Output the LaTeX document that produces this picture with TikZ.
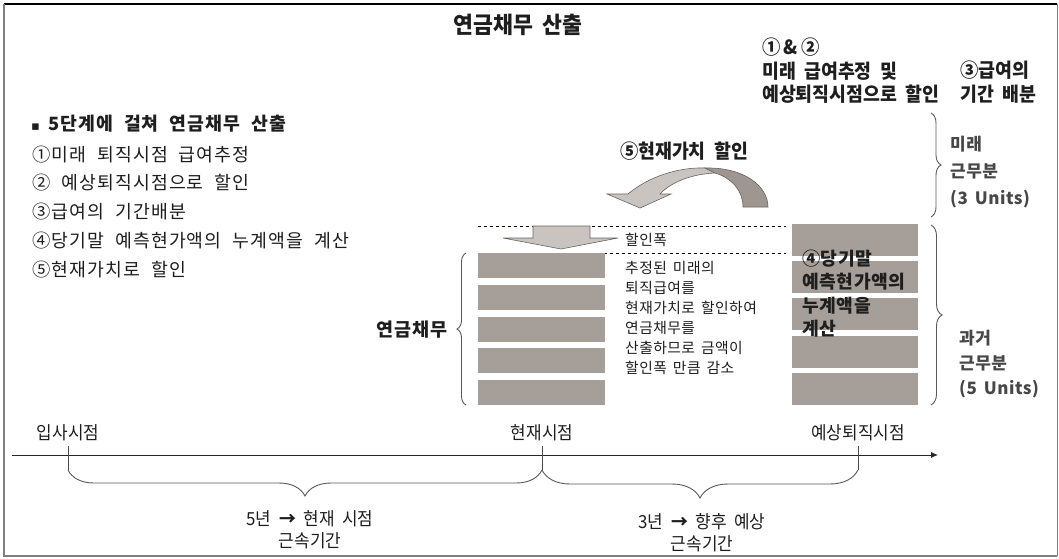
\documentclass[tikz,border=0pt]{standalone}
\usepackage{fontspec}
\setmainfont{Noto Sans CJK KR}
\newfontfamily\krl[LetterSpace=6,WordSpace=2.1]{Noto Sans CJK KR}
\newfontfamily\krs[LetterSpace=3,WordSpace=1.6]{Noto Sans CJK KR}
\newfontfamily\krc[FakeStretch=0.94]{Noto Sans CJK KR}
\newfontfamily\krt[FakeStretch=0.94,WordSpace=2]{Noto Sans CJK KR}
\newfontfamily\dejavu{DejaVu Sans}
\usetikzlibrary{arrows.meta,decorations.pathreplacing}
\definecolor{barc}{RGB}{166,158,153}
\definecolor{arlight}{RGB}{202,196,192}
\definecolor{ardark}{RGB}{158,150,145}
\definecolor{arline}{RGB}{105,100,97}
\definecolor{txt}{RGB}{30,30,30}
\tikzset{
  lst/.style={font=\krl\fontsize{18.3}{18}\selectfont, anchor=west, inner sep=0pt, text=txt},
  cond/.style={font=\krc\bfseries\fontsize{19.5}{23.5}\selectfont, inner sep=0pt, text=txt},
  tl/.style={font=\krt\fontsize{18}{22}\selectfont, inner sep=0pt, text=txt},
  small/.style={font=\krs\fontsize{14.8}{20}\selectfont, inner sep=0pt, text=txt, align=left},
  side/.style={font=\krs\bfseries\fontsize{17}{27}\selectfont, inner sep=0pt, text=black!72, align=left, anchor=north west},
  barl/.style={fill=barc, draw=none, minimum width=127pt, minimum height=25pt, inner sep=0pt},
  barr/.style={fill=barc, draw=none, minimum width=126pt, minimum height=32pt, inner sep=0pt},
  brc/.style={draw=black!65, line width=0.9pt, decorate},
  guide/.style={dashed, black, line width=0.7pt}
}
\begin{document}
\begin{tikzpicture}[x=1pt,y=-1pt]
\useasboundingbox (0,0) rectangle (1059,558);
% frame
\draw[black, line width=1.5pt] (4,4) -- (1057,4);
\draw[black!50, line width=2pt] (4,4) -- (4,556) -- (1057,556);
\draw[black!50, line width=0.8pt] (1057,4) -- (1057,556);

% title
\node[cond, font=\krc\bfseries\fontsize{23}{23}\selectfont] (title) at (518,25) {연금채무 산출};

% top right labels
\node[cond, anchor=north west, align=left] (h12) at (762,38) {①\,\&\,②\\미래 급여추정 및\\예상퇴직시점으로 할인};
\node[cond, anchor=north west, align=left] (h3) at (960,61) {③급여의\\기간 배분};

% left list
\node[lst, font=\krl\bfseries\fontsize{18.3}{18}\selectfont] (head) at (31,124) {{\dejavu\fontsize{13}{13}\selectfont ▪}\hspace{8pt}5단계에 걸쳐 연금채무 산출};
\node[lst] (s1) at (32,155) {①미래 퇴직시점 급여추정};
\node[lst] (s2) at (32,183) {② 예상퇴직시점으로 할인};
\node[lst] (s3) at (32,212) {③급여의 기간배분};
\node[lst] (s4) at (32,241) {④당기말 예측현가액의 누계액을 계산};
\node[lst] (s5) at (32,270) {⑤현재가치로 할인};

% present value label
\node[cond, font=\krc\bfseries\fontsize{19.5}{19}\selectfont] (pv) at (684,151) {⑤현재가치 할인};

% curved arrow
\fill[arlight, draw=arline, line width=0.6pt]
  (628,194) .. controls (648,177) and (678,167) .. (705,168)
  -- (715,173) .. controls (692,174) and (671,182) .. (660,194)
  -- (671,194) -- (640,208) -- (607,194) -- cycle;
\fill[ardark, draw=arline, line width=0.6pt]
  (705,168) .. controls (744,167) and (768,186) .. (768,207)
  -- (743,207) .. controls (743,191) and (732,178) .. (715,173) -- cycle;

% dashed guides
\coordinate (g1a) at (478,226); \coordinate (g1b) at (786,226);
\coordinate (g2a) at (478,253); \coordinate (g2b) at (786,253);
\draw[guide] (g1a) -- (g1b);
\draw[guide] (g2a) -- (g2b);

% down arrow
\fill[arlight, draw=arline, line width=0.6pt]
  (533,226) -- (590,226) -- (590,238) -- (618,238) -- (561,249) -- (503,238) -- (533,238) -- cycle;
\node[small, anchor=west] (cut) at (625,240) {할인폭};

% left bars
\node[barl] (l1) at (541.5,265.5) {};
\node[barl] (l2) at (541.5,297.5) {};
\node[barl] (l3) at (541.5,329.5) {};
\node[barl] (l4) at (541.5,360.5) {};
\node[barl] (l5) at (541.5,392.5) {};
\node[small, anchor=north west] (expl) at (625,261) {추정된 미래의\\퇴직급여를\\현재가치로 할인하여\\연금채무를\\산출하므로 금액이\\할인폭 만큼 감소};
\coordinate (lb1) at (466,405); \coordinate (lb2) at (466,253);
\draw[brc, decoration={brace, amplitude=9pt}] (lb1) -- (lb2);
\node[lst, anchor=east, font=\krl\bfseries\fontsize{18.5}{18}\selectfont] (debt) at (448,330) {연금채무};

% right bars
\node[barr] (r1) at (855,239.5) {};
\node[barr] (r2) at (855,277) {};
\node[barr] (r3) at (855,314) {};
\node[barr] (r4) at (855,351.5) {};
\node[barr] (r5) at (855,389) {};
\node[anchor=north west, inner sep=0pt, align=left, font=\krs\bfseries\fontsize{18.2}{23.5}\selectfont, text=txt] (acc) at (802,249.5) {④당기말\\예측현가액의\\누계액을\\계산};

% right braces
\coordinate (ub1) at (931,113); \coordinate (ub2) at (931,217);
\coordinate (db1) at (931,225); \coordinate (db2) at (931,405);
\draw[brc, decoration={brace, amplitude=10pt}] (ub1) -- (ub2);
\draw[brc, decoration={brace, amplitude=11pt}] (db1) -- (db2);
\node[side] (fut) at (950,135.5) {미래\\근무분\\(3 Units)};
\node[side, font=\krs\bfseries\fontsize{17}{25}\selectfont] (past) at (959,329.5) {과거\\근무분\\(5 Units)};

% timeline
\coordinate (ax0) at (12,455); \coordinate (ax1) at (938,455);
\draw[black!85, line width=0.9pt, -{Latex[length=7pt,width=6pt]}] (ax0) -- (ax1);
\coordinate (t1a) at (68,446); \coordinate (t1b) at (68,470);
\coordinate (t2a) at (542,446); \coordinate (t2b) at (542,470);
\coordinate (t3a) at (858,446); \coordinate (t3b) at (858,470);
\draw[black!70, line width=0.7pt] (t1a) -- (t1b);
\draw[black!70, line width=0.7pt] (t2a) -- (t2b);
\draw[black!70, line width=0.7pt] (t3a) -- (t3b);
\node[tl] (ip) at (68,433) {입사시점};
\node[tl] (now) at (542,433) {현재시점};
\node[tl] (ret) at (858,433) {예상퇴직시점};
\draw[brc, decoration={brace, amplitude=26pt}] (t2b) -- (t1b);
\draw[brc, decoration={brace, amplitude=28pt}] (t3b) -- (t2b);
\node[tl, align=center, anchor=north] (p1) at (310,510) {5년 {\bfseries →} 현재 시점\\근속기간};
\node[tl, align=center, anchor=north] (p2) at (702,513) {3년 {\bfseries →} 향후 예상\\근속기간};
\end{tikzpicture}
\end{document}
